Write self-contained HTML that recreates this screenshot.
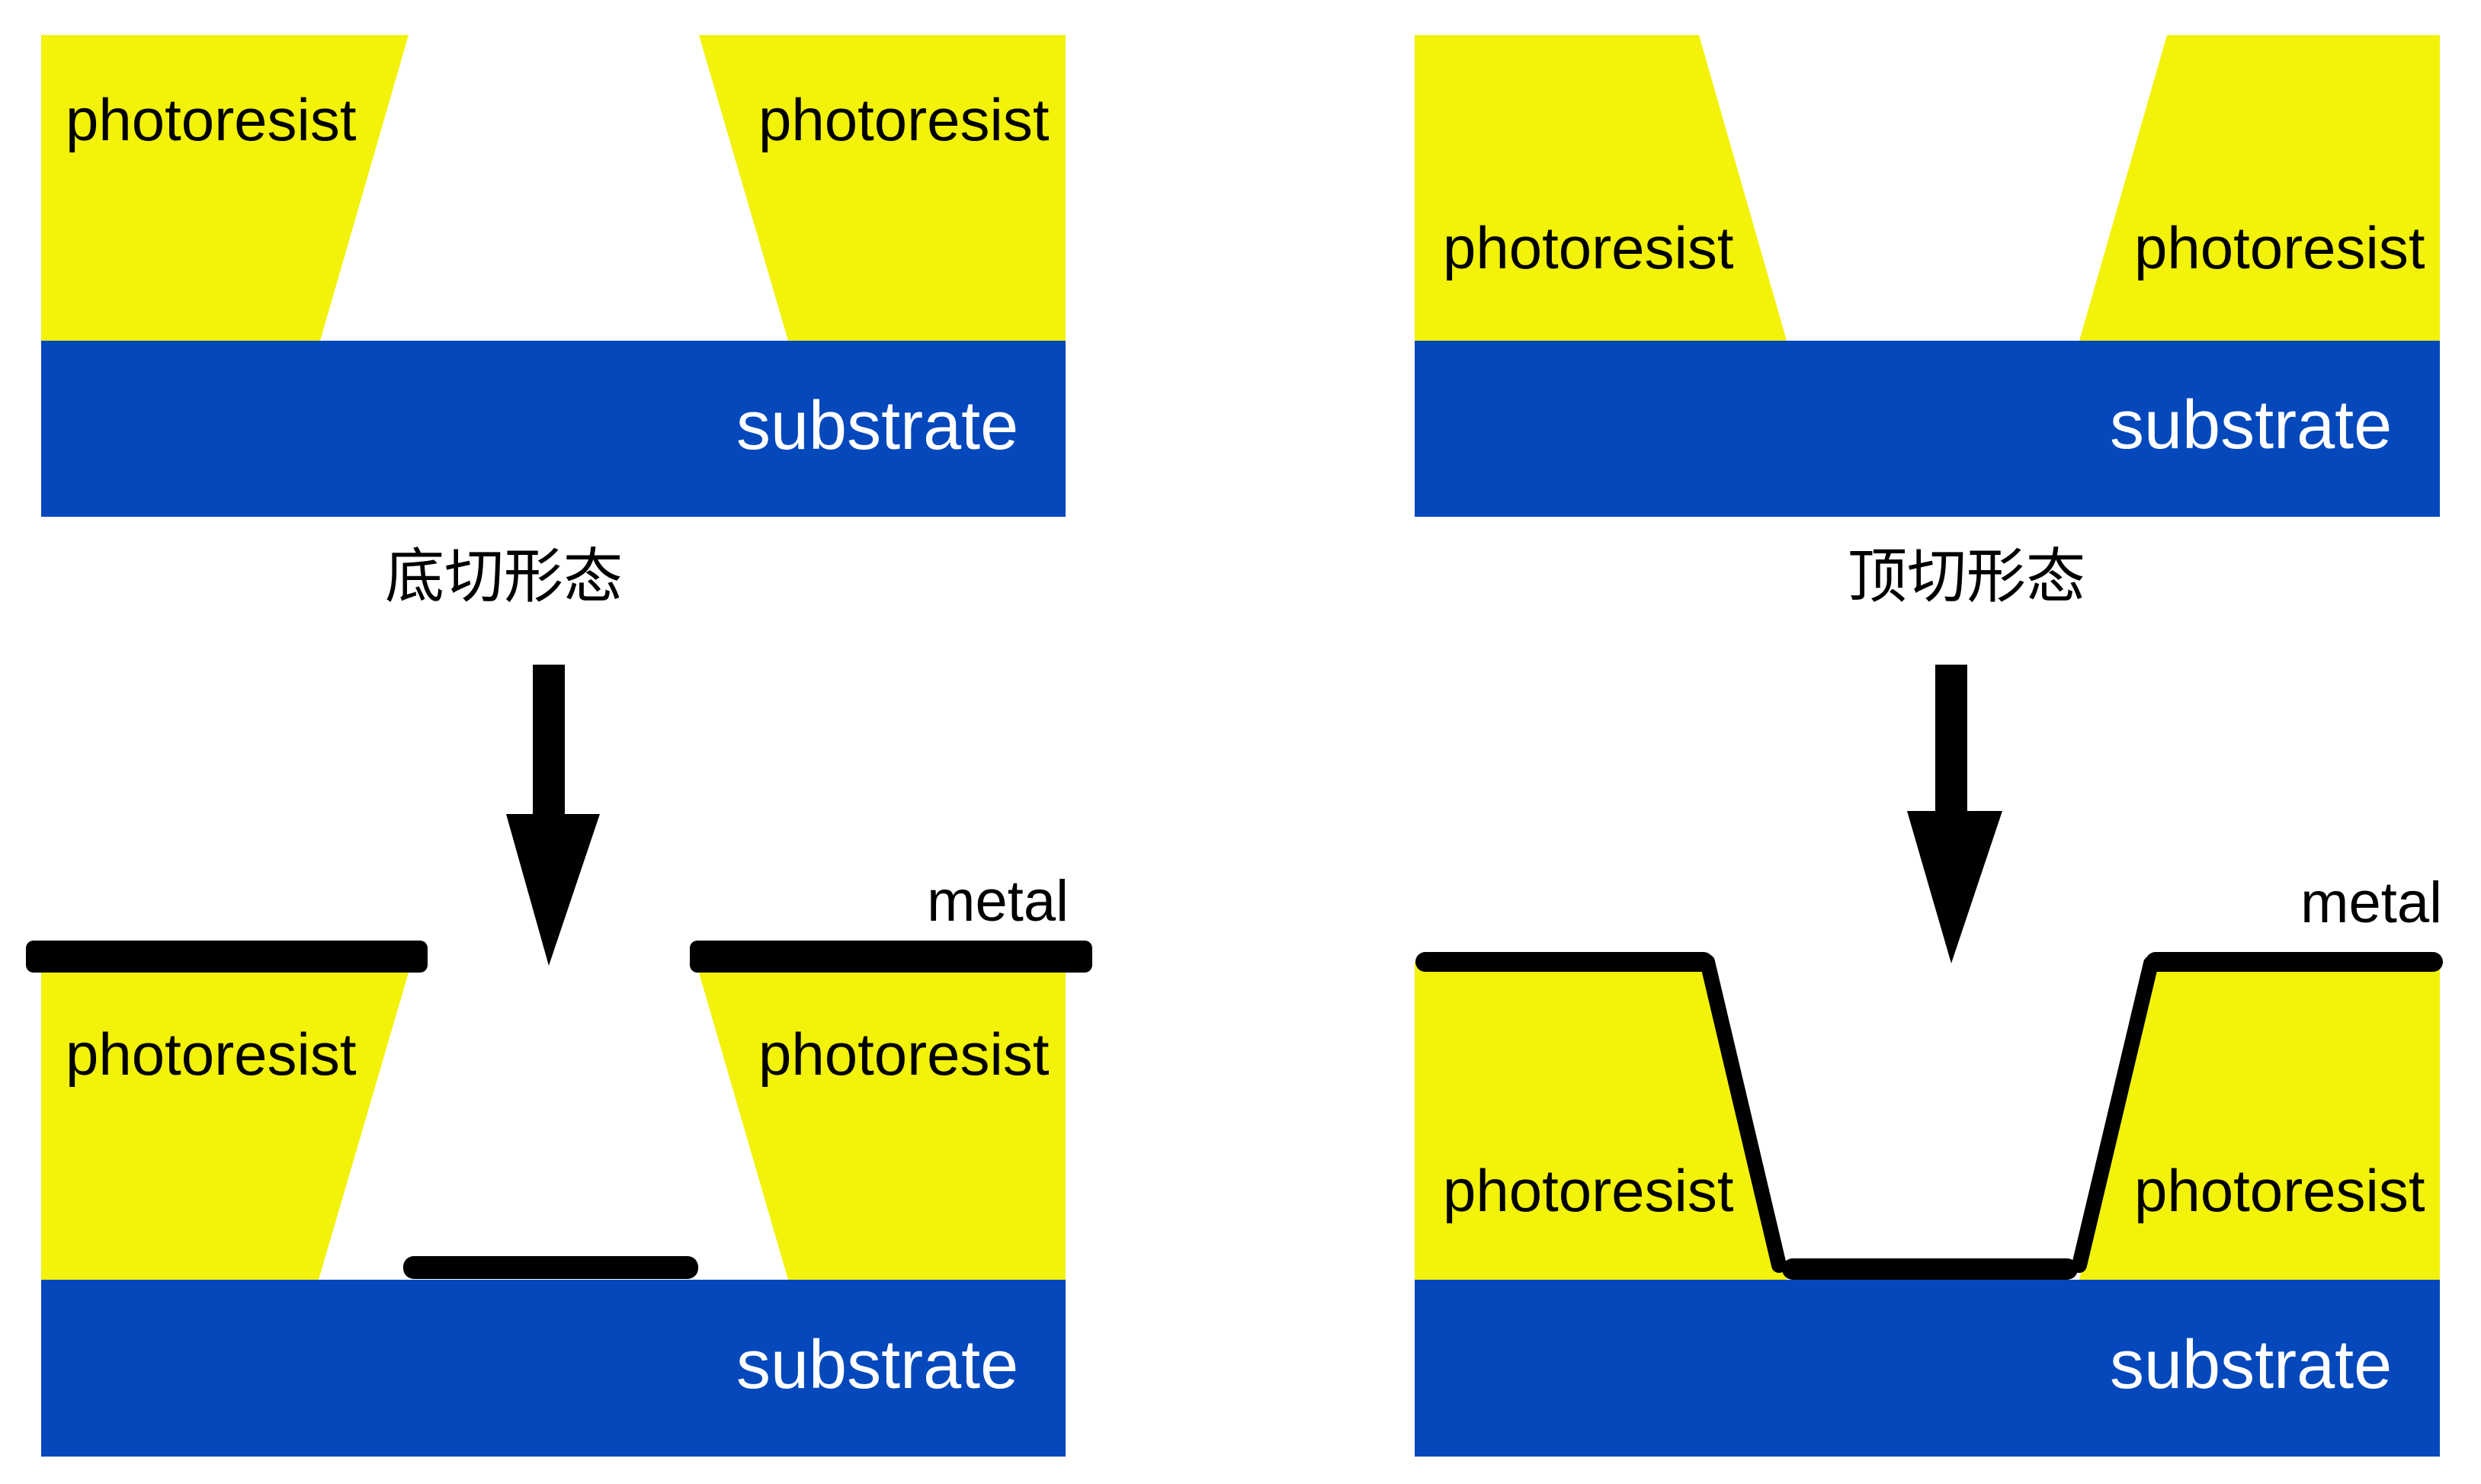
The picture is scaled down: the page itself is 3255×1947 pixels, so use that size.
<!DOCTYPE html>
<html><head><meta charset="utf-8"><style>
html,body{margin:0;padding:0;background:#fff;}
svg{display:block;}
text{font-family:"Liberation Sans","Noto Sans CJK SC",sans-serif;}
</style></head><body>
<svg width="3255" height="1947" viewBox="0 0 3255 1947" xmlns="http://www.w3.org/2000/svg">
<rect width="3255" height="1947" fill="#fff"/>
<!-- Top left -->
<polygon points="54,46 536,46 420,447 54,447" fill="#f2f20a"/>
<polygon points="917,46 1398,46 1398,447 1034,447" fill="#f2f20a"/>
<rect x="54" y="447" width="1344" height="231" fill="#0448bc"/>
<text x="86" y="184" font-size="78" fill="#000">photoresist</text>
<text x="995" y="184" font-size="78" fill="#000">photoresist</text>
<text x="966" y="589" font-size="90" fill="#fff">substrate</text>
<text x="661" y="783" font-size="78" fill="#000" text-anchor="middle">底切形态</text>
<!-- Top right -->
<polygon points="1856,46 2229,46 2344,447 1856,447" fill="#f2f20a"/>
<polygon points="2843,46 3201,46 3201,447 2728,447" fill="#f2f20a"/>
<rect x="1856" y="447" width="1345" height="231" fill="#0448bc"/>
<text x="1893" y="352" font-size="78" fill="#000">photoresist</text>
<text x="2800" y="352" font-size="78" fill="#000">photoresist</text>
<text x="2768" y="588" font-size="90" fill="#fff">substrate</text>
<text x="2580" y="783" font-size="78" fill="#000" text-anchor="middle">顶切形态</text>
<!-- Arrows -->
<rect x="699" y="872" width="42" height="196" fill="#000"/>
<polygon points="664,1068 787,1068 720,1267" fill="#000"/>
<rect x="2539" y="872" width="42" height="194" fill="#000"/>
<polygon points="2502,1064 2627,1064 2560,1264" fill="#000"/>
<!-- Bottom left -->
<polygon points="54,1276 536,1276 418,1679 54,1679" fill="#f2f20a"/>
<polygon points="917,1276 1398,1276 1398,1679 1034,1679" fill="#f2f20a"/>
<rect x="54" y="1679" width="1344" height="232" fill="#0448bc"/>
<text x="86" y="1410" font-size="78" fill="#000">photoresist</text>
<text x="995" y="1410" font-size="78" fill="#000">photoresist</text>
<text x="966" y="1821" font-size="90" fill="#fff">substrate</text>
<text x="1402" y="1208" font-size="76" fill="#000" text-anchor="end">metal</text>
<rect x="34" y="1234" width="527" height="42" rx="10" fill="#000"/>
<rect x="905" y="1234" width="528" height="42" rx="10" fill="#000"/>
<rect x="529" y="1648" width="387" height="30" rx="14" fill="#000"/>
<!-- Bottom right -->
<polygon points="1856,1262 2232,1262 2344,1679 1856,1679" fill="#f2f20a"/>
<polygon points="2830,1262 3201,1262 3201,1679 2728,1679" fill="#f2f20a"/>
<rect x="1856" y="1679" width="1345" height="232" fill="#0448bc"/>
<text x="1893" y="1589" font-size="78" fill="#000">photoresist</text>
<text x="2800" y="1589" font-size="78" fill="#000">photoresist</text>
<text x="2768" y="1821" font-size="90" fill="#fff">substrate</text>
<text x="3204" y="1210" font-size="76" fill="#000" text-anchor="end">metal</text>
<g stroke="#000" stroke-linecap="round" stroke-linejoin="round" fill="none">
<line x1="1870" y1="1262" x2="2235" y2="1262" stroke-width="26"/>
<line x1="2240" y1="1262" x2="2334" y2="1660" stroke-width="20"/>
<line x1="2352" y1="1665" x2="2712" y2="1665" stroke-width="28"/>
<line x1="2728" y1="1660" x2="2822" y2="1264" stroke-width="20"/>
<line x1="2828" y1="1262" x2="3192" y2="1262" stroke-width="26"/>
</g>
</svg>
</body></html>
